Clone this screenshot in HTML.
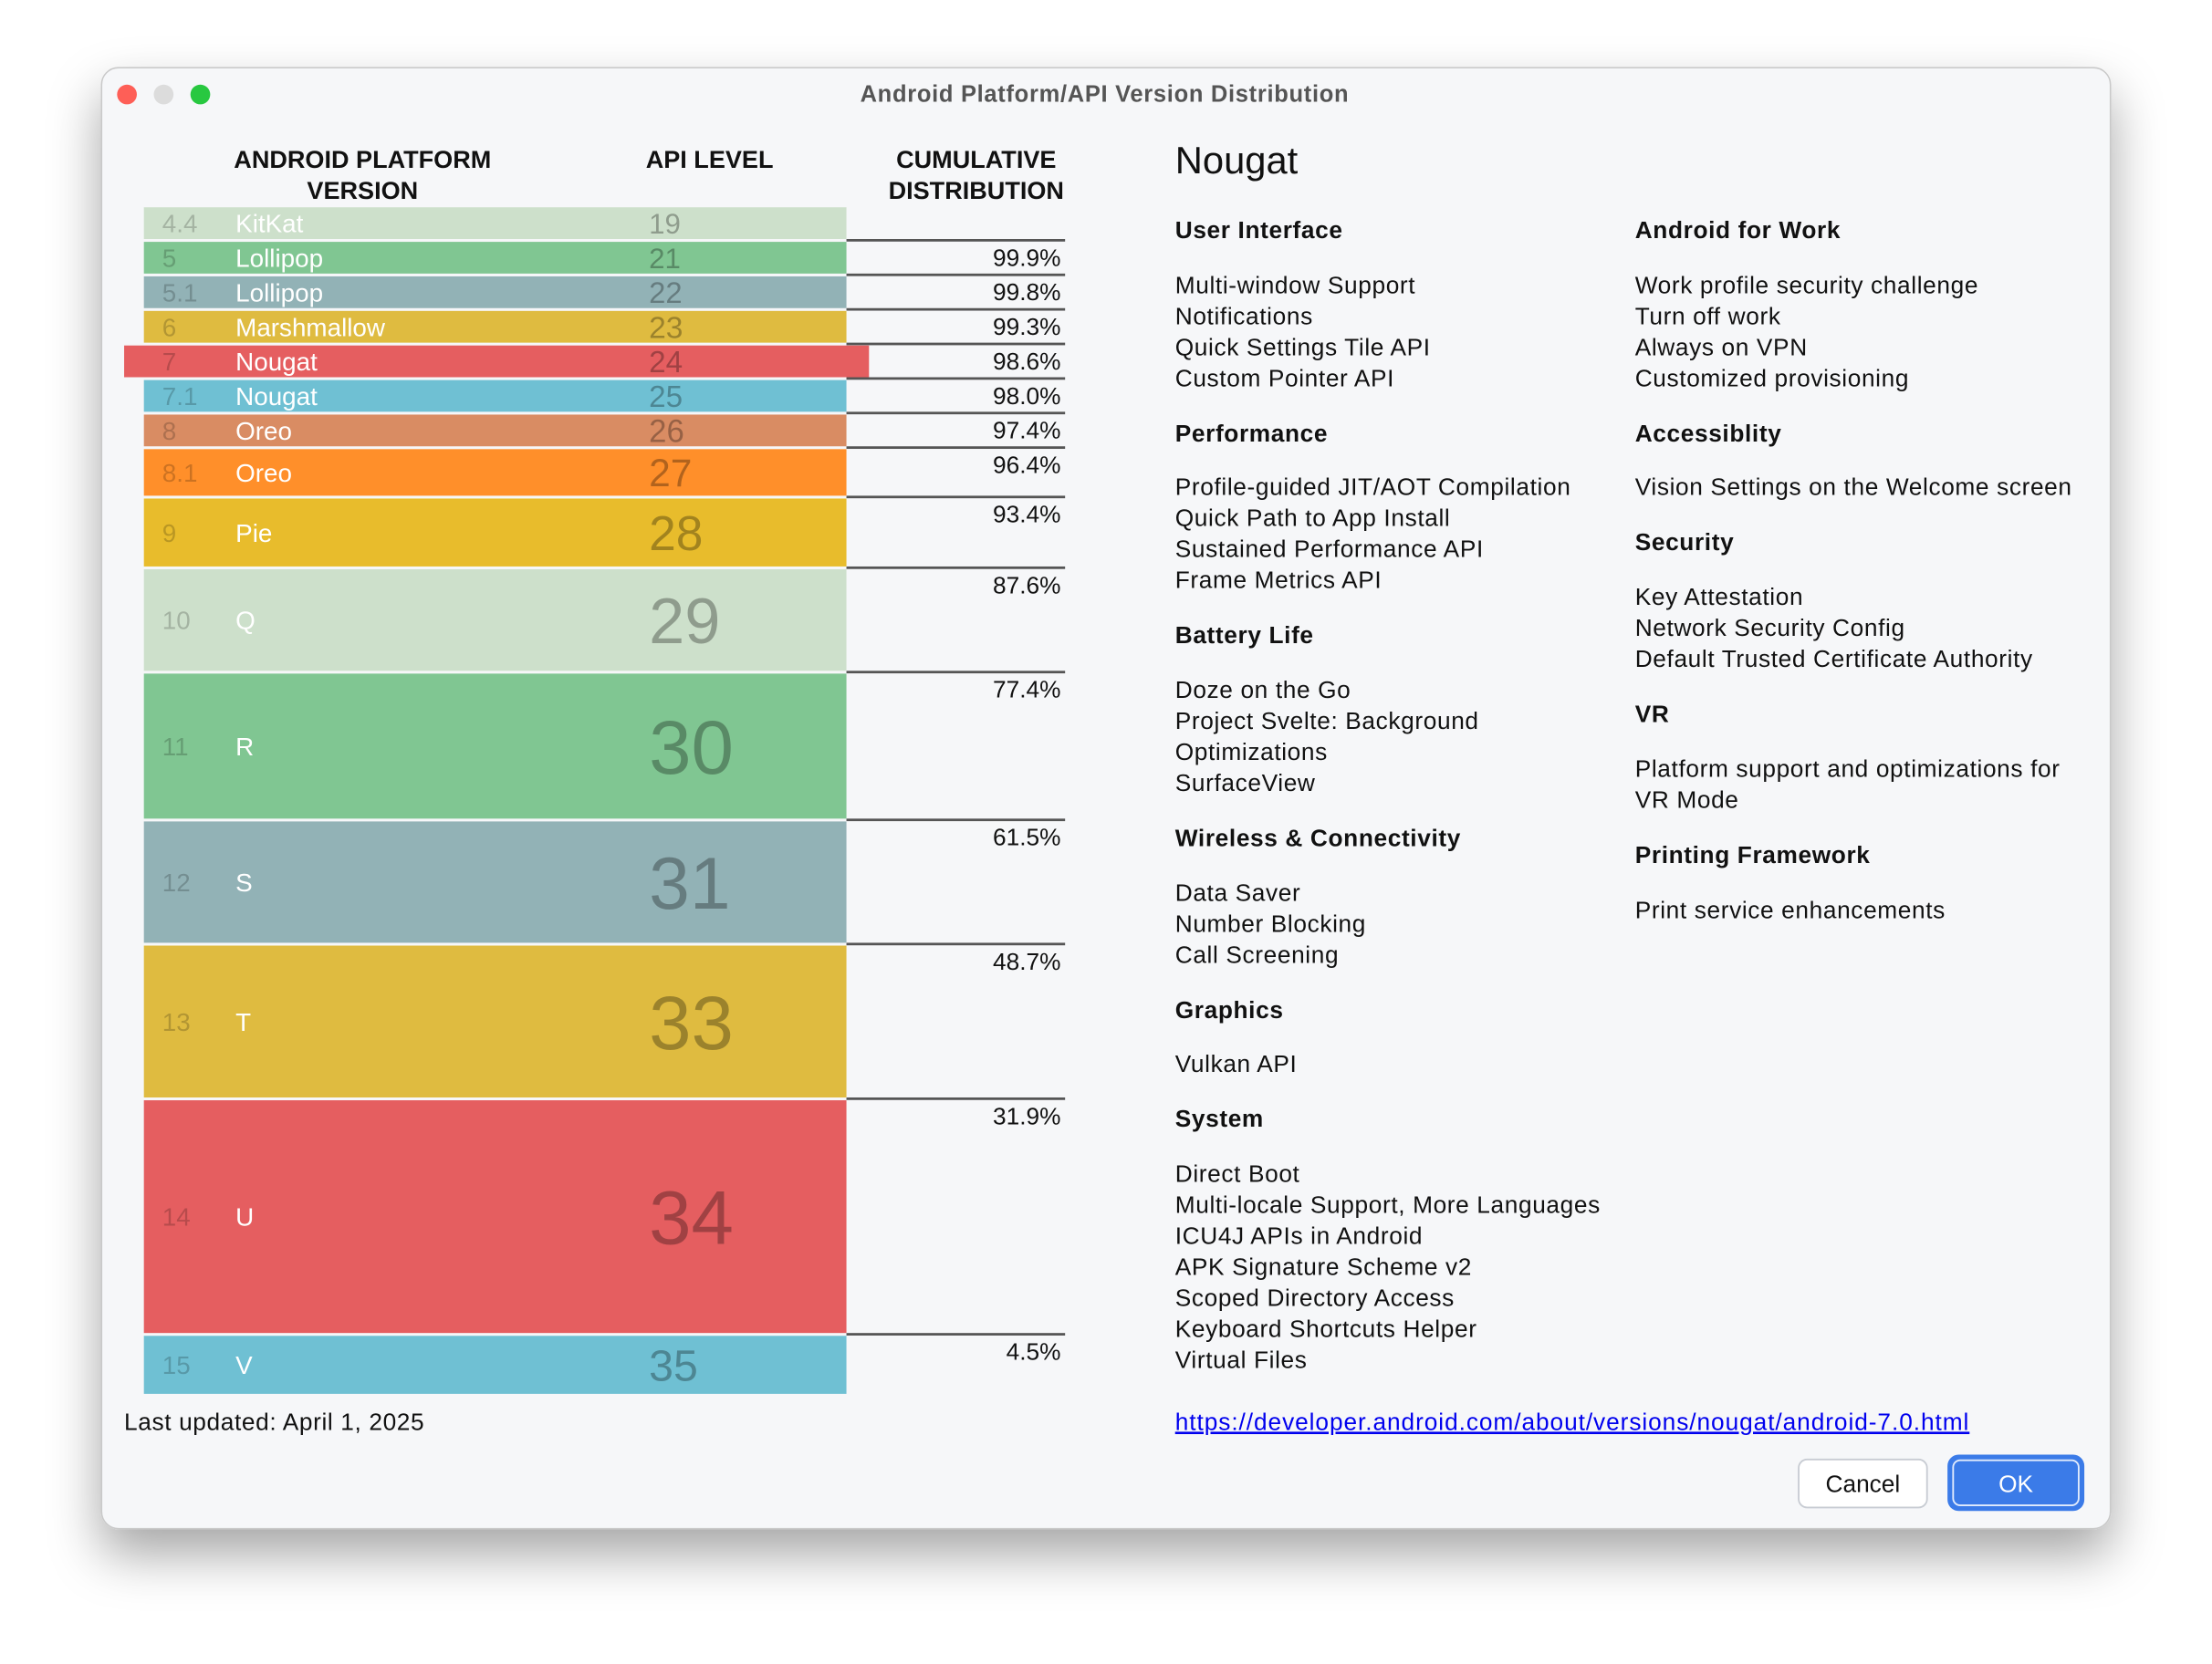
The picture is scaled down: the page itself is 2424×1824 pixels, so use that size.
<!DOCTYPE html>
<html><head><meta charset="utf-8"><style>
html,body{margin:0;padding:0;background:#fff;}
svg{display:block;font-family:"Liberation Sans",sans-serif;}
</style></head><body>
<svg id="chart" width="2424" height="1824" viewBox="0 0 1568 1180" preserveAspectRatio="none" xmlns="http://www.w3.org/2000/svg">
<defs>
<filter id="sh" x="-10%" y="-10%" width="120%" height="125%"><feDropShadow dx="0" dy="18" stdDeviation="18" flood-color="#000" flood-opacity="0.35"/></filter>
</defs>
<rect x="72" y="48" width="1424" height="1036" rx="12" fill="#f6f7f9" stroke="#c9c9c9" stroke-width="1" filter="url(#sh)"/>
<circle cx="90" cy="67" r="7" fill="#fe5f57"/>
<circle cx="116" cy="67" r="7" fill="#dcdcdc"/>
<circle cx="142" cy="67" r="7" fill="#28c840"/>
<text x="783" y="72" text-anchor="middle" font-size="16.5" font-weight="bold" fill="#555" letter-spacing="0.45">Android Platform/API Version Distribution</text>

<g font-size="17.5" font-weight="bold" fill="#111" text-anchor="middle">
<text x="257" y="119">ANDROID PLATFORM</text>
<text x="257" y="141">VERSION</text>
<text x="503" y="119">API LEVEL</text>
<text x="692" y="119">CUMULATIVE</text>
<text x="692" y="141">DISTRIBUTION</text>
</g>
<g id="rows"></g>

<text x="88" y="1014" font-size="17" fill="#111" letter-spacing="0.4">Last updated: April 1, 2025</text>

<text x="833" y="123" font-size="27" fill="#111">Nougat</text>
<g font-size="17" fill="#111" letter-spacing="0.4">
<text x="833" y="169" font-weight="bold">User Interface</text>
<text x="833" y="208">Multi-window Support</text>
<text x="833" y="230">Notifications</text>
<text x="833" y="252">Quick Settings Tile API</text>
<text x="833" y="274">Custom Pointer API</text>
<text x="833" y="313" font-weight="bold">Performance</text>
<text x="833" y="351">Profile-guided JIT/AOT Compilation</text>
<text x="833" y="373">Quick Path to App Install</text>
<text x="833" y="395">Sustained Performance API</text>
<text x="833" y="417">Frame Metrics API</text>
<text x="833" y="456" font-weight="bold">Battery Life</text>
<text x="833" y="495">Doze on the Go</text>
<text x="833" y="517">Project Svelte: Background</text>
<text x="833" y="539">Optimizations</text>
<text x="833" y="561">SurfaceView</text>
<text x="833" y="600" font-weight="bold">Wireless &amp; Connectivity</text>
<text x="833" y="639">Data Saver</text>
<text x="833" y="661">Number Blocking</text>
<text x="833" y="683">Call Screening</text>
<text x="833" y="722" font-weight="bold">Graphics</text>
<text x="833" y="760">Vulkan API</text>
<text x="833" y="799" font-weight="bold">System</text>
<text x="833" y="838">Direct Boot</text>
<text x="833" y="860">Multi-locale Support, More Languages</text>
<text x="833" y="882">ICU4J APIs in Android</text>
<text x="833" y="904">APK Signature Scheme v2</text>
<text x="833" y="926">Scoped Directory Access</text>
<text x="833" y="948">Keyboard Shortcuts Helper</text>
<text x="833" y="970">Virtual Files</text>

<text x="1159" y="169" font-weight="bold">Android for Work</text>
<text x="1159" y="208">Work profile security challenge</text>
<text x="1159" y="230">Turn off work</text>
<text x="1159" y="252">Always on VPN</text>
<text x="1159" y="274">Customized provisioning</text>
<text x="1159" y="313" font-weight="bold">Accessiblity</text>
<text x="1159" y="351">Vision Settings on the Welcome screen</text>
<text x="1159" y="390" font-weight="bold">Security</text>
<text x="1159" y="429">Key Attestation</text>
<text x="1159" y="451">Network Security Config</text>
<text x="1159" y="473">Default Trusted Certificate Authority</text>
<text x="1159" y="512" font-weight="bold">VR</text>
<text x="1159" y="551">Platform support and optimizations for</text>
<text x="1159" y="573">VR Mode</text>
<text x="1159" y="612" font-weight="bold">Printing Framework</text>
<text x="1159" y="651">Print service enhancements</text>
</g>
<text x="833" y="1014" font-size="17" fill="#0000ee" text-decoration="underline" letter-spacing="0.6">https://developer.android.com/about/versions/nougat/android-7.0.html</text>

<g>
<rect x="1275" y="1035" width="91" height="34" rx="6" fill="#fff" stroke="#c8ccd3" stroke-width="1.2"/>
<text x="1320.5" y="1058" text-anchor="middle" font-size="17" fill="#111">Cancel</text>
</g>
<g>
<rect x="1381.5" y="1032.5" width="95" height="38" rx="7" fill="#3b7be8" stroke="#3b7be8" stroke-width="2"/>
<rect x="1384.5" y="1035.5" width="89" height="32" rx="5" fill="none" stroke="#fff" stroke-width="1.2" opacity="0.85"/>
<text x="1429" y="1058" text-anchor="middle" font-size="17" fill="#fff">OK</text>
</g>
</svg>
<script>
const versions = ["4.4","5","5.1","6","7","7.1","8","8.1","9","10","11","12","13","14","15"];
const names = ["KitKat","Lollipop","Lollipop","Marshmallow","Nougat","Nougat","Oreo","Oreo","Pie","Q","R","S","T","U","V"];
const apiLevels = [19,21,22,23,24,25,26,27,28,29,30,31,33,34,35];
const sharePct = [0.1,0.1,0.5,0.7,0.6,0.6,1.0,3.0,5.8,10.2,15.9,12.8,16.8,27.4,4.5];
const cumulative = [null,"99.9%","99.8%","99.3%","98.6%","98.0%","97.4%","96.4%","93.4%","87.6%","77.4%","61.5%","48.7%","31.9%","4.5%"];
const colors = ["#cde0cb","#80c692","#92b2b6","#dfbb40","#e55e60","#6fc0d3","#d98c63","#ff8f2a","#e8bc2c","#cde0cb","#80c692","#92b2b6","#dfbb40","#e55e60","#6fc0d3"];
const selectedIndex = 4;

const NS = "http://www.w3.org/2000/svg";
const g = document.getElementById("rows");
function rowHeight(p){ return Math.max(24.5, 18.8 + 5.41*p); }
function apiFont(p){ return Math.min(54, Math.max(18, 20 + 2.5*p)); }
function mk(tag, attrs){ const e=document.createElementNS(NS,tag); for(const k in attrs) e.setAttribute(k,attrs[k]); return e; }
let y = 147;
for (let i=0;i<versions.length;i++){
  const h = rowHeight(sharePct[i]);
  const sel = i===selectedIndex;
  const x0 = sel?88:102, x1 = sel?616:600;
  const r = mk("rect",{x:x0,y:y,width:x1-x0,height:h-2,fill:colors[i]});
  
  
  g.appendChild(r);
  const cy = y + (h-2)/2;
  const v = mk("text",{x:115,y:cy+6.5,"font-size":18,fill:"rgba(0,0,0,0.2)"});
  v.textContent = versions[i];
  
  
  g.appendChild(v);
  const n = mk("text",{x:167,y:cy+6.5,"font-size":18,fill:"#fff"});
  n.textContent = names[i];
  
  
  g.appendChild(n);
  const fs = apiFont(sharePct[i]);
  const a = mk("text",{x:460,y:cy+fs*0.36,"font-size":fs,fill:"rgba(0,0,0,0.3)"});
  a.textContent = apiLevels[i];
  
  
  g.appendChild(a);
  if (cumulative[i]){
    const l = mk("rect",{x:600,y:y-2,width:155,height:1.8,fill:"#555"});
    
    
    g.appendChild(l);
    const t = mk("text",{x:752,y:y+17,"font-size":17,fill:"#111","text-anchor":"end"});
    t.textContent = cumulative[i];
    
    
    g.appendChild(t);
  }
  y += h;
}
</script>
</body></html>
